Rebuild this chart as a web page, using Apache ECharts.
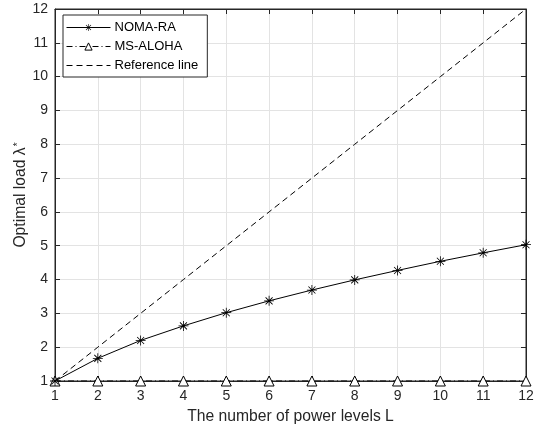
<!DOCTYPE html>
<html>
<head>
<meta charset="utf-8">
<script src="https://cdn.jsdelivr.net/npm/echarts@6/dist/echarts.min.js"></script>
<style>
  html, body { margin: 0; padding: 0; background: #fff; }
  #chart { width: 535px; height: 430px; }
</style>
</head>
<body>
<div id="chart"></div>
<script>
// Number of power levels L
const levels = [1, 2, 3, 4, 5, 6, 7, 8, 9, 10, 11, 12];
// Optimal load for each scheme
const nomaRA = [1.0, 1.67, 2.2, 2.63, 3.02, 3.37, 3.69, 3.99, 4.27, 4.54, 4.79, 5.03];
const msAloha = [1, 1, 1, 1, 1, 1, 1, 1, 1, 1, 1, 1];
const referenceLine = [1, 2, 3, 4, 5, 6, 7, 8, 9, 10, 11, 12];

const pair = (xs, ys) => xs.map((x, i) => [x, ys[i]]);

// eight-armed asterisk marker (plus + cross)
const asterisk = 'path://' +
  'M-0.8,-10 L0.8,-10 L0.8,10 L-0.8,10 Z ' +
  'M-10,-0.8 L10,-0.8 L10,0.8 L-10,0.8 Z ' +
  'M-6.43,-7.57 L7.57,6.43 L6.43,7.57 L-7.57,-6.43 Z ' +
  'M-7.57,6.43 L6.43,-7.57 L7.57,-6.43 L-6.43,7.57 Z';

const ink = '#262626';
const font = '"Liberation Sans", Arial, Helvetica, sans-serif';

const chart = echarts.init(document.getElementById('chart'));

const baseAxis = {
  type: 'value', min: 1, max: 12, interval: 1,
  axisLine: { show: true, lineStyle: { color: ink, width: 1 } },
  axisTick: { show: true, inside: true, length: 5, lineStyle: { color: ink } },
  axisLabel: { color: ink, fontSize: 14, fontFamily: font },
};

chart.setOption({
  animation: false,
  backgroundColor: '#fff',
  grid: {
    left: 55, right: 9, top: 9, bottom: 49,
    outerBoundsMode: 'none', containLabel: false,
    show: true, borderColor: ink, borderWidth: 1
  },
  legend: {
    orient: 'vertical', left: 63, top: 15,
    padding: [6, 9, 5, 3],
    itemGap: 6, itemWidth: 44, itemHeight: 9,
    backgroundColor: '#fff', borderColor: ink, borderWidth: 1, borderRadius: 0,
    lineStyle: { width: 1 },
    textStyle: { color: '#000', fontSize: 13, fontFamily: font, padding: [0, 0, 0, -1] },
    data: [
      'NOMA-RA',
      { name: 'MS-ALOHA', itemStyle: { borderWidth: 1 } },
      { name: 'Reference line', itemStyle: { opacity: 0 } }
    ]
  },
  xAxis: [
    Object.assign({}, baseAxis, {
      position: 'bottom',
      name: 'The number of power levels L',
      nameLocation: 'middle', nameGap: 28, nameMoveOverlap: false,
      nameTextStyle: { color: ink, fontSize: 15.7, fontFamily: font },
      axisLabel: Object.assign({}, baseAxis.axisLabel, { margin: 8 }),
      splitLine: { show: true, lineStyle: { color: '#e3e3e3', width: 1 } }
    }),
    Object.assign({}, baseAxis, {
      position: 'top', axisLabel: { show: false }, splitLine: { show: false }
    })
  ],
  yAxis: [
    Object.assign({}, baseAxis, {
      position: 'left',
      name: '{t|Optimal load λ}{s|*}',
      nameLocation: 'middle', nameGap: 26, nameMoveOverlap: false,
      nameTextStyle: {
        color: ink, fontFamily: font,
        rich: {
          t: { fontSize: 15.7, color: ink, fontFamily: font },
          s: { fontSize: 10, color: ink, fontFamily: font, verticalAlign: 'top', padding: [0, 0, 6, 1] }
        }
      },
      axisLabel: Object.assign({}, baseAxis.axisLabel, { margin: 7 }),
      splitLine: { show: true, lineStyle: { color: '#e3e3e3', width: 1 } }
    }),
    Object.assign({}, baseAxis, {
      position: 'right', axisLabel: { show: false }, splitLine: { show: false }
    })
  ],
  series: [
    {
      name: 'Reference line', type: 'line',
      data: pair(levels, referenceLine),
      symbol: 'none',
      lineStyle: { color: '#000', width: 1, type: [6, 4] },
      itemStyle: { color: '#000' },
      z: 2
    },
    {
      name: 'MS-ALOHA', type: 'line',
      data: pair(levels, msAloha),
      symbol: 'triangle', symbolSize: 10,
      lineStyle: { color: '#000', width: 1, type: [6, 3, 1, 3] },
      itemStyle: { color: '#fff', borderColor: '#000', borderWidth: 1 },
      z: 3
    },
    {
      name: 'NOMA-RA', type: 'line',
      data: pair(levels, nomaRA),
      symbol: asterisk, symbolSize: 10,
      lineStyle: { color: '#000', width: 1 },
      itemStyle: { color: '#000' },
      z: 4
    }
  ]
});
</script>
</body>
</html>
